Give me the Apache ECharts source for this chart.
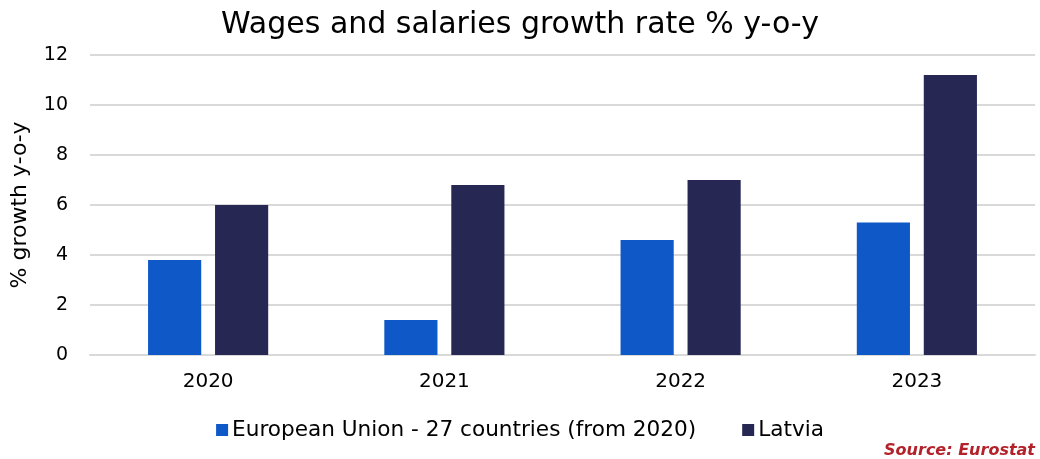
<!DOCTYPE html>
<html>
<head>
<meta charset="utf-8">
<script src="https://cdn.jsdelivr.net/npm/echarts@6/dist/echarts.min.js"></script>
<style>
  html, body { margin: 0; padding: 0; background: #ffffff; }
  #chart { width: 1040px; height: 459px; }
</style>
</head>
<body>
<div id="chart"></div>
<script>
// Annual wage and salary growth, % year on year
const years = ['2020', '2021', '2022', '2023'];
const euValues = [3.8, 1.4, 4.6, 5.3];
const latviaValues = [6.0, 6.8, 7.0, 11.2];
const seriesNames = ['European Union - 27 countries (from 2020)', 'Latvia'];

const FONT = 'DejaVu Sans';
const chart = echarts.init(document.getElementById('chart'));

chart.setOption({
  animation: false,
  textStyle: { fontFamily: FONT },
  title: {
    text: 'Wages and salaries growth rate % y-o-y',
    left: 'center',
    top: 5,
    textStyle: { fontFamily: FONT, fontSize: 30, fontWeight: 'normal', color: '#000000' }
  },
  legend: {
    bottom: 13,
    left: 'center',
    itemWidth: 12,
    itemHeight: 12,
    itemGap: 46,
    icon: 'rect',
    textStyle: { fontFamily: FONT, fontSize: 21.6, color: '#000000', padding: [0, 0, 0, -1] },
    data: seriesNames
  },
  graphic: [{
    type: 'text',
    right: 5,
    bottom: 0,
    style: {
      text: 'Source: Eurostat',
      fill: '#B3222B',
      font: 'italic bold 16px "DejaVu Sans"'
    }
  }],
  grid: { left: 90, right: 5, top: 55, bottom: 104, containLabel: false },
  xAxis: {
    type: 'category',
    data: years,
    axisLine: { lineStyle: { color: '#d9d9d9', width: 2 } },
    axisTick: { show: false },
    axisLabel: { fontFamily: FONT, fontSize: 20, color: '#000000', margin: 17 }
  },
  yAxis: {
    type: 'value',
    min: 0,
    max: 12,
    interval: 2,
    name: '% growth y-o-y',
    nameLocation: 'middle',
    nameGap: 59,
    nameTextStyle: { fontFamily: FONT, fontSize: 22, color: '#000000' },
    axisLine: { show: false },
    axisTick: { show: false },
    axisLabel: { fontFamily: FONT, fontSize: 19, color: '#000000', margin: 22 },
    splitLine: { lineStyle: { color: '#d9d9d9', width: 2 } }
  },
  series: [
    {
      name: seriesNames[0],
      type: 'bar',
      data: euValues,
      barWidth: '22.5%',
      barGap: '26%',
      itemStyle: { color: '#0F58C7' }
    },
    {
      name: seriesNames[1],
      type: 'bar',
      data: latviaValues,
      barWidth: '22.5%',
      barGap: '26%',
      itemStyle: { color: '#262853' }
    }
  ]
});
</script>
</body>
</html>
